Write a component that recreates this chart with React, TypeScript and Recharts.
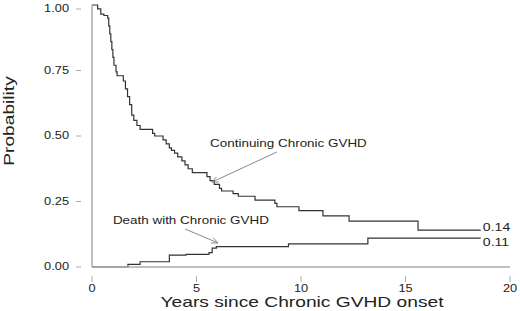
import React from 'react';
import {
  LineChart,
  Line,
  XAxis,
  YAxis,
  ReferenceLine,
  ReferenceDot
} from 'recharts';

// years since onset / probability
const continuingYears = [
  0, 0.27, 0.42, 0.57, 0.75, 0.8, 0.85, 0.9, 0.95, 1.0, 1.05, 1.15, 1.2, 1.5, 1.6, 1.7, 1.8, 1.9, 2.0,
  2.15, 2.3, 2.9, 3.0, 3.4, 3.55, 3.7, 3.8, 3.95, 4.1, 4.3, 4.45, 4.6, 4.8, 5.5, 5.65, 5.85, 6.1, 6.2,
  6.75, 7.0, 7.8, 8.75, 8.85, 9.9, 11.05, 12.3, 15.6, 18.6
];
const continuingProb = [
  1.0, 0.985, 0.965, 0.96, 0.95, 0.92, 0.89, 0.86, 0.83, 0.8, 0.77, 0.745, 0.73, 0.71, 0.68, 0.65, 0.62,
  0.58, 0.56, 0.54, 0.525, 0.51, 0.5, 0.485, 0.47, 0.455, 0.445, 0.435, 0.42, 0.405, 0.39, 0.375, 0.36,
  0.345, 0.33, 0.315, 0.3, 0.29, 0.28, 0.27, 0.255, 0.243, 0.23, 0.215, 0.195, 0.175, 0.141, 0.141
];

const deathYears = [0, 1.72, 2.3, 3.7, 4.5, 5.6, 5.75, 5.95, 9.4, 13.2, 18.6];
const deathProb = [0, 0.01, 0.02, 0.045, 0.048, 0.055, 0.072, 0.078, 0.088, 0.11, 0.11];

const yTicks = [0, 0.25, 0.5, 0.75, 1];
const xTicks = [0, 5, 10, 15, 20];

const continuingData = continuingYears.map((t, i) => ({ t, p: continuingProb[i] }));
const deathData = deathYears.map((t, i) => ({ t, p: deathProb[i] }));

const FONT = '"Liberation Sans", Arial, Helvetica, sans-serif';
const TEXT = '#222';
const AXIS = '#aaaaaa';
const STRETCH = 1.28;

function SText({ x, y, size, anchor = 'start', rotate = 0, children }: any) {
  return (
    <text
      transform={`translate(${x},${y}) rotate(${rotate}) scale(${STRETCH},1)`}
      x={0}
      y={0}
      fontSize={size}
      fontFamily={FONT}
      fill={TEXT}
      textAnchor={anchor}
      dominantBaseline="central"
    >
      {children}
    </text>
  );
}

function YTick({ y, payload }: any) {
  return (
    <g>
      <line x1={76} x2={81} y1={y} y2={y} stroke={AXIS} strokeWidth={1} />
      <SText x={69} y={y} size={10} anchor="end">{payload.value.toFixed(2)}</SText>
    </g>
  );
}

function XTick({ x, payload }: any) {
  return (
    <g>
      <line x1={x} x2={x} y1={276} y2={282} stroke={AXIS} strokeWidth={1} />
      <SText x={x} y={289} size={10} anchor="middle">{payload.value}</SText>
    </g>
  );
}

function Arrow({ x1, y1, x2, y2 }: any) {
  const a = Math.atan2(y2 - y1, x2 - x1);
  const len = 7;
  const spread = 0.42;
  const ax1 = x2 - len * Math.cos(a - spread);
  const ay1 = y2 - len * Math.sin(a - spread);
  const ax2 = x2 - len * Math.cos(a + spread);
  const ay2 = y2 - len * Math.sin(a + spread);
  return (
    <g stroke="#8a8a8a" strokeWidth={1} fill="none">
      <line x1={x1} y1={y1} x2={x2} y2={y2} />
      <polyline points={`${ax1},${ay1} ${x2},${y2} ${ax2},${ay2}`} />
    </g>
  );
}

const label = (text: string, size: number) => (props: any) => (
  <SText x={props.cx} y={props.cy} size={size}>{text}</SText>
);

export default function App() {
  return (
    <div style={{ position: 'absolute', left: 0, top: 0, background: '#fff' }}>
      <LineChart width={520} height={311} margin={{ top: 5, right: 10, bottom: 0, left: 0 }}>
        <XAxis
          type="number"
          dataKey="t"
          domain={[0, 20]}
          ticks={xTicks}
          height={44}
          tickLine={false}
          axisLine={{ stroke: AXIS, strokeWidth: 1.5 }}
          tick={<XTick />}
          allowDuplicatedCategory={false}
        />
        <YAxis
          type="number"
          dataKey="p"
          domain={[0, 1]}
          ticks={yTicks}
          width={92}
          tickLine={false}
          axisLine={{ stroke: AXIS, strokeWidth: 1.5 }}
          tick={<YTick />}
        />
        <Line
          data={continuingData}
          dataKey="p"
          type="stepAfter"
          stroke="#333"
          strokeWidth={1.2}
          dot={false}
          isAnimationActive={false}
        />
        <Line
          data={deathData}
          dataKey="p"
          type="stepAfter"
          stroke="#333"
          strokeWidth={1.2}
          dot={false}
          isAnimationActive={false}
        />
        <ReferenceLine
          segment={[{ x: 8.85, y: 0.439 }, { x: 5.74, y: 0.324 }]}
          shape={<Arrow />}
        />
        <ReferenceLine
          segment={[{ x: 4.45, y: 0.145 }, { x: 6.03, y: 0.092 }]}
          shape={<Arrow />}
        />
        <ReferenceDot x={5.65} y={0.473} r={0} shape={label('Continuing Chronic GVHD', 10.5)} />
        <ReferenceDot x={1.0} y={0.176} r={0} shape={label('Death with Chronic GVHD', 10.5)} />
        <ReferenceDot x={18.7} y={0.149} r={0} shape={label('0.14', 11)} />
        <ReferenceDot x={18.7} y={0.092} r={0} shape={label('0.11', 11)} />
      </LineChart>
      <svg width={520} height={311} style={{ position: 'absolute', left: 0, top: 0, pointerEvents: 'none' }}>
        <SText x={302} y={302} size={15} anchor="middle">Years since Chronic GVHD onset</SText>
        <SText x={9} y={121} size={15} anchor="middle" rotate={-90}>Probability</SText>
      </svg>
    </div>
  );
}
